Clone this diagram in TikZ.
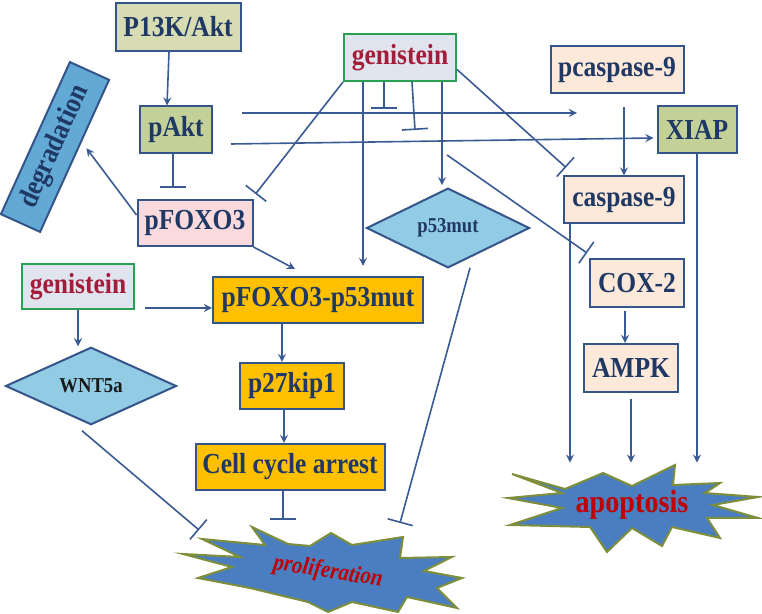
\documentclass[tikz,border=0pt]{standalone}
\usepackage{fontspec}
\setmainfont{Liberation Serif}[FakeStretch=0.88]
\usepackage{tikz}
\usetikzlibrary{shapes,shapes.geometric,arrows,arrows.meta,calc,positioning}
\definecolor{lc}{HTML}{3A5A94}
\definecolor{bc}{HTML}{34548A}
\definecolor{tc}{HTML}{1F3864}
\definecolor{rc}{HTML}{A31D3A}
\definecolor{gc}{HTML}{2AA055}
\definecolor{olv}{HTML}{D8DCB3}
\definecolor{grn}{HTML}{C3D199}
\definecolor{pnk}{HTML}{FADADD}
\definecolor{pch}{HTML}{FDE9D9}
\definecolor{lav}{HTML}{DFE4EE}
\definecolor{org}{HTML}{FFC000}
\definecolor{dia}{HTML}{92CBE4}
\definecolor{sky}{HTML}{62A9D6}
\definecolor{stb}{HTML}{4A7EC0}
\definecolor{sto}{HTML}{7E8F3C}
\definecolor{red}{HTML}{C00000}
\tikzstyle{arrow} = [line width=0.8pt, draw=lc, ->, >=stealth]
\tikzstyle{inhib} = [line width=0.8pt, draw=lc, -{Bar[width=13pt]}]
\tikzstyle{box} = [draw=bc, line width=1pt, inner sep=0pt, text=tc, font=\bfseries\fontsize{14.5}{16}\selectfont]
\tikzstyle{gen} = [box, draw=gc, fill=lav, text=rc, minimum width=56pt, minimum height=23pt]
\tikzstyle{dmd} = [box, diamond, fill=dia, font=\bfseries\fontsize{10.6}{12}\selectfont, minimum height=29.5pt]
\tikzstyle{star} = [fill=stb, draw=sto, line width=1pt, line join=miter]

\begin{document}
\begin{tikzpicture}[x=0.5pt,y=-0.5pt]
\useasboundingbox (0,0) rectangle (762,614);
% stars
\draw[star] (183,554) -- (240,557) -- (202,539) -- (265,545) -- (252,527) -- (288,544)
  -- (310,546) -- (331,533) -- (352,545) -- (403,537) -- (400,558) -- (452,557)
  -- (424,571) -- (462,578) -- (437,588) -- (457,608) -- (407,597) -- (398,612)
  -- (352,602) -- (328,612) -- (308,602) -- (250,588) -- (198,578) -- (232,567) -- cycle;
\draw[star] (512,474) -- (565,489) -- (603,473) -- (632,486) -- (675,465) -- (673,485)
  -- (720,483) -- (705,493) -- (758,497) -- (713,505) -- (758,518) -- (707,518)
  -- (720,538) -- (672,527) -- (662,546) -- (632,528) -- (607,552) -- (590,527)
  -- (510,525) -- (562,508) -- (508,498) -- (562,493) -- cycle;

% nodes
\node[box, fill=olv, minimum width=62.5pt, minimum height=24pt] (p13k) at (178,27) {P13K/Akt};
\node[box, fill=grn, minimum width=36pt, minimum height=23.5pt] (pakt) at (176,130) {pAkt};
\node[box, fill=sky, minimum width=83.5pt, minimum height=21.5pt, rotate=65.6] (deg) at (55,147) {degradation};
\node[box, fill=pnk, minimum width=57.5pt, minimum height=23pt] (pfoxo) at (195,223) {pFOXO3};
\node[gen, minimum height=23.5pt] (gen1) at (400,57.5) {genistein};
\node[gen, minimum height=22.5pt] (gen2) at (78,286.5) {genistein};
\node[box, fill=org, minimum width=105pt, minimum height=23pt] (fp53) at (318,300) {pFOXO3-p53mut};
\node[box, fill=org, minimum width=52pt, minimum height=23pt] (p27) at (292,386) {p27kip1};
\node[box, fill=org, minimum width=94.5pt, minimum height=23pt] (cca) at (290,467) {Cell cycle arrest};
\node[dmd, minimum width=85.5pt, text=black!90] (wnt) at (91,386) {WNT5a};
\node[dmd, minimum width=81.5pt] (p53) at (448,228) {p53mut};
\node[box, fill=pch, minimum width=66.5pt, minimum height=23.5pt] (pcasp) at (617,70) {pcaspase-9};
\node[box, fill=grn, minimum width=39.5pt, minimum height=23.5pt] (xiap) at (697,130) {XIAP};
\node[box, fill=pch, minimum width=60pt, minimum height=23.5pt] (casp9) at (624,200) {caspase-9};
\node[box, fill=pch, minimum width=47pt, minimum height=24pt] (cox) at (637,283) {COX-2};
\node[box, fill=pch, minimum width=47pt, minimum height=24pt] (ampk) at (631,368) {AMPK};
\node[text=red, font=\bfseries\fontsize{16}{18}\selectfont, minimum height=42pt] (apo) at (632,505) {apoptosis};
\node[text=red, font=\bfseries\itshape\fontsize{12}{14}\selectfont, rotate=-9] (pro) at (328,572) {proliferation};

% helper points
\coordinate (pa) at (577,113);
\coordinate (b1) at (384,109);
\coordinate (b2) at (415,130);
\coordinate (gk) at (447,155);
\coordinate (pw) at (199,530);
\coordinate (pn) at (283,520);
\coordinate (pe) at (400,523);
\coordinate (ak) at ([xshift=-1.5pt]pakt.south);
\coordinate (gx1) at ([xshift=-18.5pt]gen1.south);
\coordinate (gx2) at ([xshift=21pt]gen1.south);
\coordinate (ax1) at ([xshift=3.5pt]casp9.south west);
\coordinate (cx) at ([xshift=-6pt]cox.south);
\coordinate (px) at ([xshift=-5pt]p27.north);
\coordinate (qx) at ([xshift=-3pt]cca.north);
\coordinate (gy) at ([xshift=5pt,yshift=-10.75pt]gen2.east);

% edges
\draw[arrow] ([xshift=-4.5pt]p13k.south) -- ([xshift=-4.5pt]pakt.north);
\draw[inhib] (ak) -- ([yshift=5.5pt]ak |- pfoxo.north);
\draw[arrow] ([yshift=4pt]pfoxo.west) -- ([xshift=5.5pt,yshift=4pt]deg.south);
\draw[arrow] (pfoxo.south east) -- ([xshift=-11.5pt,yshift=3.5pt]fp53.north);
\draw[arrow] ([xshift=14.5pt,yshift=8.5pt]pakt.east) -- (pa);
\draw[arrow] ([xshift=9pt,yshift=-7pt]pakt.east) -- ([xshift=-1.5pt,yshift=-4pt]xiap.west);
\draw[inhib] (gen1.south west) -- ([xshift=1pt,yshift=2.5pt]pfoxo.north east);
\draw[arrow] (gx1) -- ([yshift=5pt]gx1 |- fp53.north);
\draw[inhib] (b1 |- gen1.south) -- (b1);
\draw[inhib] ([xshift=6pt]gen1.south) -- (b2);
\draw[arrow] (gx2) -- ([yshift=1pt]gx2 |- p53.north);
\draw[inhib] ([yshift=-6pt]gen1.east) -- ([xshift=1.5pt,yshift=4pt]casp9.north west);
\draw[inhib] (gk) -- ([xshift=-1pt,yshift=2.5pt]cox.north west);
\draw[arrow] ([yshift=-6.5pt]casp9.north |- pcasp.south) -- (casp9.north);
\draw[arrow] (ax1) -- (ax1 |- apo.north);
\draw[arrow] (xiap) -- (xiap |- apo.north);
\draw[arrow] ([yshift=-1.5pt]cx) -- (cx |- ampk.north);
\draw[arrow] ([yshift=-3pt]ampk.south) -- (ampk.south |- apo.north);
\draw[arrow] (gy) -- (gy -| fp53.west);
\draw[arrow] (gen2.south) -- (gen2.south |- wnt.north);
\draw[arrow] (px |- fp53.south) -- (px);
\draw[arrow] (qx |- p27.south) -- (qx);
\draw[inhib] ([xshift=-3.5pt]cca.south) -- (pn);
\draw[inhib] ([xshift=-4.5pt,yshift=-2.5pt]wnt.south) -- (pw);
\draw[inhib] ([xshift=11pt,yshift=0.5pt]p53.south) -- (pe);
\end{tikzpicture}
\end{document}
